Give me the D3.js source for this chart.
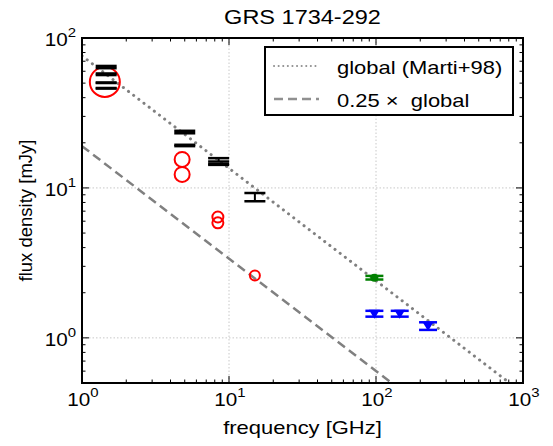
<!DOCTYPE html>
<html>
<head>
<meta charset="utf-8">
<script src="https://cdn.jsdelivr.net/npm/d3@7"></script>
<style>
  body { margin: 0; background: #fff; }
  text { font-family: "Liberation Sans", Arial, sans-serif; fill: #000; white-space: pre; }
</style>
</head>
<body>
<div id="container"></div>
<script>
// black points: errorbars with caps
const blackFreq = [1.46, 1.46, 1.46, 1.46, 5.0, 5.0, 8.5, 8.5, 15.0];
const blackFlux = [64, 57.3, 50.3, 46.2, 23.6, 19.2, 15.4, 14.35, 8.7];
const blackErr = [1.1, 0.7, 0.2, 0.2, 0.45, 0.2, 0.4, 0.1, 0.55];

// red open circles, radius in px
const redFreq = [1.43, 4.8, 4.8, 8.4, 8.4, 15.0];
const redFlux = [50.9, 15.5, 12.3, 6.4, 5.85, 2.61];
const redRadius = [15, 7.5, 7.5, 5.5, 5.5, 5];

// green point
const greenFreq = [97.5];
const greenFlux = [2.52];
const greenErr = [0.07];

// blue points (down triangles)
const blueFreq = [97.5, 145, 226];
const blueFlux = [1.45, 1.45, 1.2];
const blueErr = [0.065, 0.065, 0.07];

// global spectrum model S = norm * f^index
const globalNorm = 76;
const globalIndex = -0.75;
const modelScale = [1, 0.25];
const legendLabels = ['global (Marti+98)', '0.25 \u00d7  global'];

const xTicks = [1, 10, 100, 1000];
const yTicks = [1, 10, 100];

const W = 553, H = 446;
const m = {left: 82, right: 30, top: 38, bottom: 63};
const SX = 1.22; // text in the picture is drawn wide
const svg = d3.select('#container').append('svg').attr('width', W).attr('height', H);

const x = d3.scaleLog().domain([1, 1000]).range([m.left, W - m.right]);
const y = d3.scaleLog().domain([0.5, 100]).range([H - m.bottom, m.top]);

svg.append('clipPath').attr('id', 'clip').append('rect')
    .attr('x', x(1)).attr('y', y(100)).attr('width', x(1000) - x(1)).attr('height', y(0.5) - y(100));

// text placed at (tx,ty), stretched horizontally
function wideText(parent, tx, ty, size, sx, rot) {
  return parent.append('text')
      .attr('transform', `translate(${tx},${ty})` + (rot ? ` rotate(${rot})` : '') + ` scale(${sx},1)`)
      .attr('font-size', size);
}

// grid
const grid = svg.append('g').attr('stroke', '#c8c8c8').attr('stroke-width', 1).attr('stroke-dasharray', '1.5,2');
[10, 100].forEach((v) => {
  grid.append('line').attr('x1', x(v)).attr('x2', x(v)).attr('y1', y(100)).attr('y2', y(0.5));
});
[1, 10].forEach((v) => {
  grid.append('line').attr('y1', y(v)).attr('y2', y(v)).attr('x1', x(1)).attr('x2', x(1000));
});

// model lines
const plot = svg.append('g').attr('clip-path', 'url(#clip)');
const styles = [
  {dash: '0.1,6.4', width: 3, cap: 'round'},
  {dash: '9,5', width: 2.5, cap: 'butt'},
];
modelScale.forEach((k, i) => {
  const f0 = 1, f1 = 1000;
  plot.append('line')
      .attr('x1', x(f0)).attr('y1', y(k * globalNorm * Math.pow(f0, globalIndex)))
      .attr('x2', x(f1)).attr('y2', y(k * globalNorm * Math.pow(f1, globalIndex)))
      .attr('stroke', '#808080').attr('stroke-width', styles[i].width)
      .attr('stroke-dasharray', styles[i].dash).attr('stroke-linecap', styles[i].cap);
});

// red circles
redFreq.forEach((f, i) => {
  plot.append('circle').attr('cx', x(f)).attr('cy', y(redFlux[i])).attr('r', redRadius[i])
      .attr('fill', 'none').attr('stroke', 'red').attr('stroke-width', 2);
});

function errbar(f, v, e, color, cw) {
  const g = plot.append('g').attr('stroke', color).attr('stroke-width', 2.5);
  g.append('line').attr('x1', x(f)).attr('x2', x(f)).attr('y1', y(v - e)).attr('y2', y(v + e)).attr('stroke-width', 2);
  [v - e, v + e].forEach((c) => {
    g.append('line').attr('x1', x(f) - cw / 2).attr('x2', x(f) + cw / 2).attr('y1', y(c)).attr('y2', y(c));
  });
}

blackFreq.forEach((f, i) => errbar(f, blackFlux[i], blackErr[i], '#000', 21));

greenFreq.forEach((f, i) => {
  errbar(f, greenFlux[i], greenErr[i], 'green', 18);
  plot.append('circle').attr('cx', x(f)).attr('cy', y(greenFlux[i])).attr('r', 4).attr('fill', 'green');
});

blueFreq.forEach((f, i) => {
  errbar(f, blueFlux[i], blueErr[i], 'blue', 18);
  const cx = x(f), cy = y(blueFlux[i]);
  plot.append('path').attr('d', `M${cx - 5.5},${cy - 4}L${cx + 5.5},${cy - 4}L${cx},${cy + 5}Z`).attr('fill', 'blue');
});

// ticks (inward, all four sides)
const tk = svg.append('g').attr('stroke', '#000').attr('stroke-width', 1);
function minors(lo, hi) {
  const out = [];
  for (let d = lo; d < hi; d *= 10) {
    for (let k = 1; k < 10; k++) out.push({v: d * k, major: k === 1});
  }
  out.push({v: hi, major: true});
  return out;
}
minors(1, 1000).forEach((t) => {
  const len = t.major ? 7 : 3.5;
  const px = x(t.v);
  tk.append('line').attr('x1', px).attr('x2', px).attr('y1', y(0.5)).attr('y2', y(0.5) - len);
  tk.append('line').attr('x1', px).attr('x2', px).attr('y1', y(100)).attr('y2', y(100) + len);
});
minors(0.1, 100).filter((t) => t.v >= 0.5).forEach((t) => {
  const len = t.major ? 7 : 3.5;
  const py = y(t.v);
  tk.append('line').attr('y1', py).attr('y2', py).attr('x1', x(1)).attr('x2', x(1) + len);
  tk.append('line').attr('y1', py).attr('y2', py).attr('x1', x(1000)).attr('x2', x(1000) - len);
});

// frame
svg.append('rect').attr('x', x(1)).attr('y', y(100)).attr('width', x(1000) - x(1)).attr('height', y(0.5) - y(100))
    .attr('fill', 'none').attr('stroke', '#000').attr('stroke-width', 2);

// tick labels
function powLabel(tx, ty, v, anchor) {
  const t = wideText(svg, tx, ty, 18, 1.15).attr('text-anchor', anchor);
  t.append('tspan').text('10');
  t.append('tspan').attr('dy', -9).attr('font-size', 13).text(Math.round(Math.log10(v)));
  return t;
}
xTicks.forEach((v) => powLabel(x(v) + 1, y(0.5) + 23, v, 'middle'));
yTicks.forEach((v) => powLabel(x(1) - 6, y(v) + 8, v, 'end'));

// titles
wideText(svg, (x(1) + x(1000)) / 2, 24, 21, 1.12).attr('text-anchor', 'middle').text('GRS 1734-292');
wideText(svg, (x(1) + x(1000)) / 2, 434, 18, SX).attr('text-anchor', 'middle').text('frequency [GHz]');
svg.append('text').attr('transform', `translate(32,${(y(0.5) + y(100)) / 2}) rotate(-90)`)
    .attr('text-anchor', 'middle').attr('font-size', 18.5).text('flux density [mJy]');

// legend
const lg = svg.append('g');
lg.append('rect').attr('x', 265).attr('y', 47).attr('width', 248).attr('height', 68)
    .attr('fill', '#fff').attr('stroke', '#000').attr('stroke-width', 2);
legendLabels.forEach((l, i) => {
  const ly = 66 + i * 33;
  lg.append('line').attr('x1', 274).attr('x2', 319).attr('y1', ly).attr('y2', ly)
      .attr('stroke', '#909090').attr('stroke-width', i === 0 ? 2 : 2.5)
      .attr('stroke-dasharray', i === 0 ? '0.1,4.5' : '9,5').attr('stroke-linecap', i === 0 ? 'round' : 'butt');
  wideText(lg, 337, ly + 8, 18, SX).text(l);
});
</script>
</body>
</html>
